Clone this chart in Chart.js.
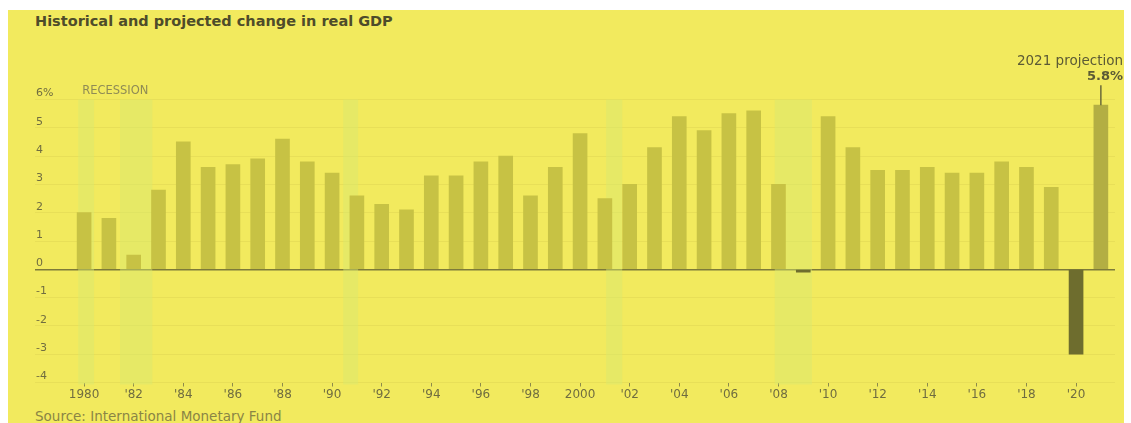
<!DOCTYPE html>
<html>
<head>
<meta charset="utf-8">
<script src="https://cdn.jsdelivr.net/npm/chart.js@4.4.1/dist/chart.umd.min.js"></script>
<style>
  html, body { margin: 0; padding: 0; background: #fff; }
  body { width: 1131px; height: 423px; position: relative; overflow: hidden; font-family: "DejaVu Sans", sans-serif; }
  #frame { position: absolute; left: 8px; top: 10px; width: 1116px; height: 413px; background: #f2ea5e; }
  #title { position: absolute; left: 35px; top: 13px; font-weight: 700; font-size: 14.5px; color: #4e4c2a; }
  #source { position: absolute; left: 35px; top: 408px; font-size: 13.5px; color: #8a8545; }
  #wrap { position: absolute; left: 0; top: 0; width: 1131px; height: 423px; }
</style>
</head>
<body>
<div id="frame"></div>
<div id="title">Historical and projected change in real GDP</div>
<div id="source">Source: International Monetary Fund</div>
<div id="wrap"><canvas id="gdpChart"></canvas></div>
<script>
/****************************** Data ********************************/
const years = [
    1980, 1981, 1982, 1983, 1984, 1985, 1986, 1987, 1988, 1989,
    1990, 1991, 1992, 1993, 1994, 1995, 1996, 1997, 1998, 1999,
    2000, 2001, 2002, 2003, 2004, 2005, 2006, 2007, 2008, 2009,
    2010, 2011, 2012, 2013, 2014, 2015, 2016, 2017, 2018, 2019,
    2020, 2021
];
const gdpChange = [
    2.0, 1.8, 0.5, 2.8, 4.5, 3.6, 3.7, 3.9, 4.6, 3.8,
    3.4, 2.6, 2.3, 2.1, 3.3, 3.3, 3.8, 4.0, 2.6, 3.6,
    4.8, 2.5, 3.0, 4.3, 5.4, 4.9, 5.5, 5.6, 3.0, -0.1,
    5.4, 4.3, 3.5, 3.5, 3.6, 3.4, 3.4, 3.8, 3.6, 2.9,
    -3.0, 5.8
];
const projectionYear = 2021;

// recession periods, in fractional years
const recessionStart = [1979.76, 1981.45, 1990.45, 2001.05, 2007.85];
const recessionEnd   = [1980.40, 1982.75, 1991.05, 2001.70, 2009.35];

const tickYears  = [1980, 1982, 1984, 1986, 1988, 1990, 1992, 1994, 1996, 1998,
                    2000, 2002, 2004, 2006, 2008, 2010, 2012, 2014, 2016, 2018, 2020];
const xTickLabels = ["1980", "'82", "'84", "'86", "'88", "'90", "'92", "'94", "'96", "'98",
                     "2000", "'02", "'04", "'06", "'08", "'10", "'12", "'14", "'16", "'18", "'20"];

/****************************** Chart ********************************/
const barColor = "#c7c244";
const negColor = "#6e6d2e";
const projColor = "#b3ae43";
const textColor = "#706d40";

const extras = {
    id: "extras",
    beforeDatasetsDraw(chart) {
        const { ctx, chartArea, scales: { x } } = chart;
        ctx.save();
        ctx.fillStyle = "rgba(214, 232, 112, 0.45)";
        recessionStart.forEach(function (s, i) {
            const x0 = x.getPixelForValue(s);
            const x1 = x.getPixelForValue(recessionEnd[i]);
            ctx.fillRect(x0, chartArea.top, x1 - x0, chartArea.bottom - chartArea.top + 2);
        });
        ctx.fillStyle = "#8f8b55";
        ctx.font = "11.5px 'DejaVu Sans'";
        ctx.textBaseline = "middle";
        ctx.fillText("RECESSION", x.getPixelForValue(recessionStart[0]) + 4, chartArea.top - 8);
        ctx.restore();
    },
    afterDatasetsDraw(chart) {
        const { ctx } = chart;
        const idx = years.indexOf(projectionYear);
        const bar = chart.getDatasetMeta(0).data[idx];
        ctx.save();
        ctx.strokeStyle = "#6b6a3a";
        ctx.lineWidth = 1.5;
        ctx.beginPath();
        ctx.moveTo(bar.x, bar.y);
        ctx.lineTo(bar.x, bar.y - 20);
        ctx.stroke();
        ctx.fillStyle = "#5b5a35";
        ctx.textAlign = "right";
        ctx.textBaseline = "middle";
        ctx.font = "13.5px 'DejaVu Sans'";
        ctx.fillText(projectionYear + " projection", 1123, 61);
        ctx.font = "bold 13px 'DejaVu Sans'";
        ctx.fillText(gdpChange[idx] + "%", 1123, 77);
        ctx.restore();
    }
};

new Chart("gdpChart", {
    type: "bar",
    data: {
        datasets: [{
            data: years.map((y, i) => ({ x: y, y: gdpChange[i] })),
            backgroundColor: years.map((y, i) =>
                y === projectionYear ? projColor : (gdpChange[i] < 0 ? negColor : barColor)),
            barThickness: 14
        }]
    },
    options: {
        responsive: true,
        maintainAspectRatio: false,
        animation: false,
        layout: { padding: { left: 35, right: 16, top: 99.5, bottom: 20.5 } },
        plugins: { legend: { display: false }, tooltip: { enabled: false } },
        scales: {
            x: {
                type: "linear",
                offset: false,
                min: 1978.02,
                max: 2021.57,
                afterBuildTicks: function (scale) {
                    scale.ticks = tickYears.map(v => ({ value: v }));
                },
                afterFit: function (scale) { scale.height = 20; },
                border: { display: false },
                grid: { offset: false, drawOnChartArea: false, drawTicks: true, tickLength: 4, tickColor: "#8d8a4a" },
                ticks: {
                    autoSkip: false,
                    maxRotation: 0,
                    padding: 1,
                    color: textColor,
                    font: { family: "DejaVu Sans", size: 12 },
                    callback: (value, index) => xTickLabels[index]
                }
            },
            y: {
                min: -4,
                max: 6,
                afterFit: function (scale) { scale.width = 0; },
                border: { display: false },
                grid: {
                    drawTicks: false,
                    color: ctx => ctx.tick.value === 0 ? "#7d7a3a" : "rgba(190, 180, 60, 0.18)",
                    lineWidth: ctx => ctx.tick.value === 0 ? 1.5 : 1
                },
                ticks: {
                    stepSize: 1,
                    mirror: true,
                    padding: 1,
                    labelOffset: -6,
                    color: textColor,
                    font: { family: "DejaVu Sans", size: 11 },
                    callback: v => v === 6 ? "6%" : v
                }
            }
        }
    },
    plugins: [extras]
});
</script>
</body>
</html>
